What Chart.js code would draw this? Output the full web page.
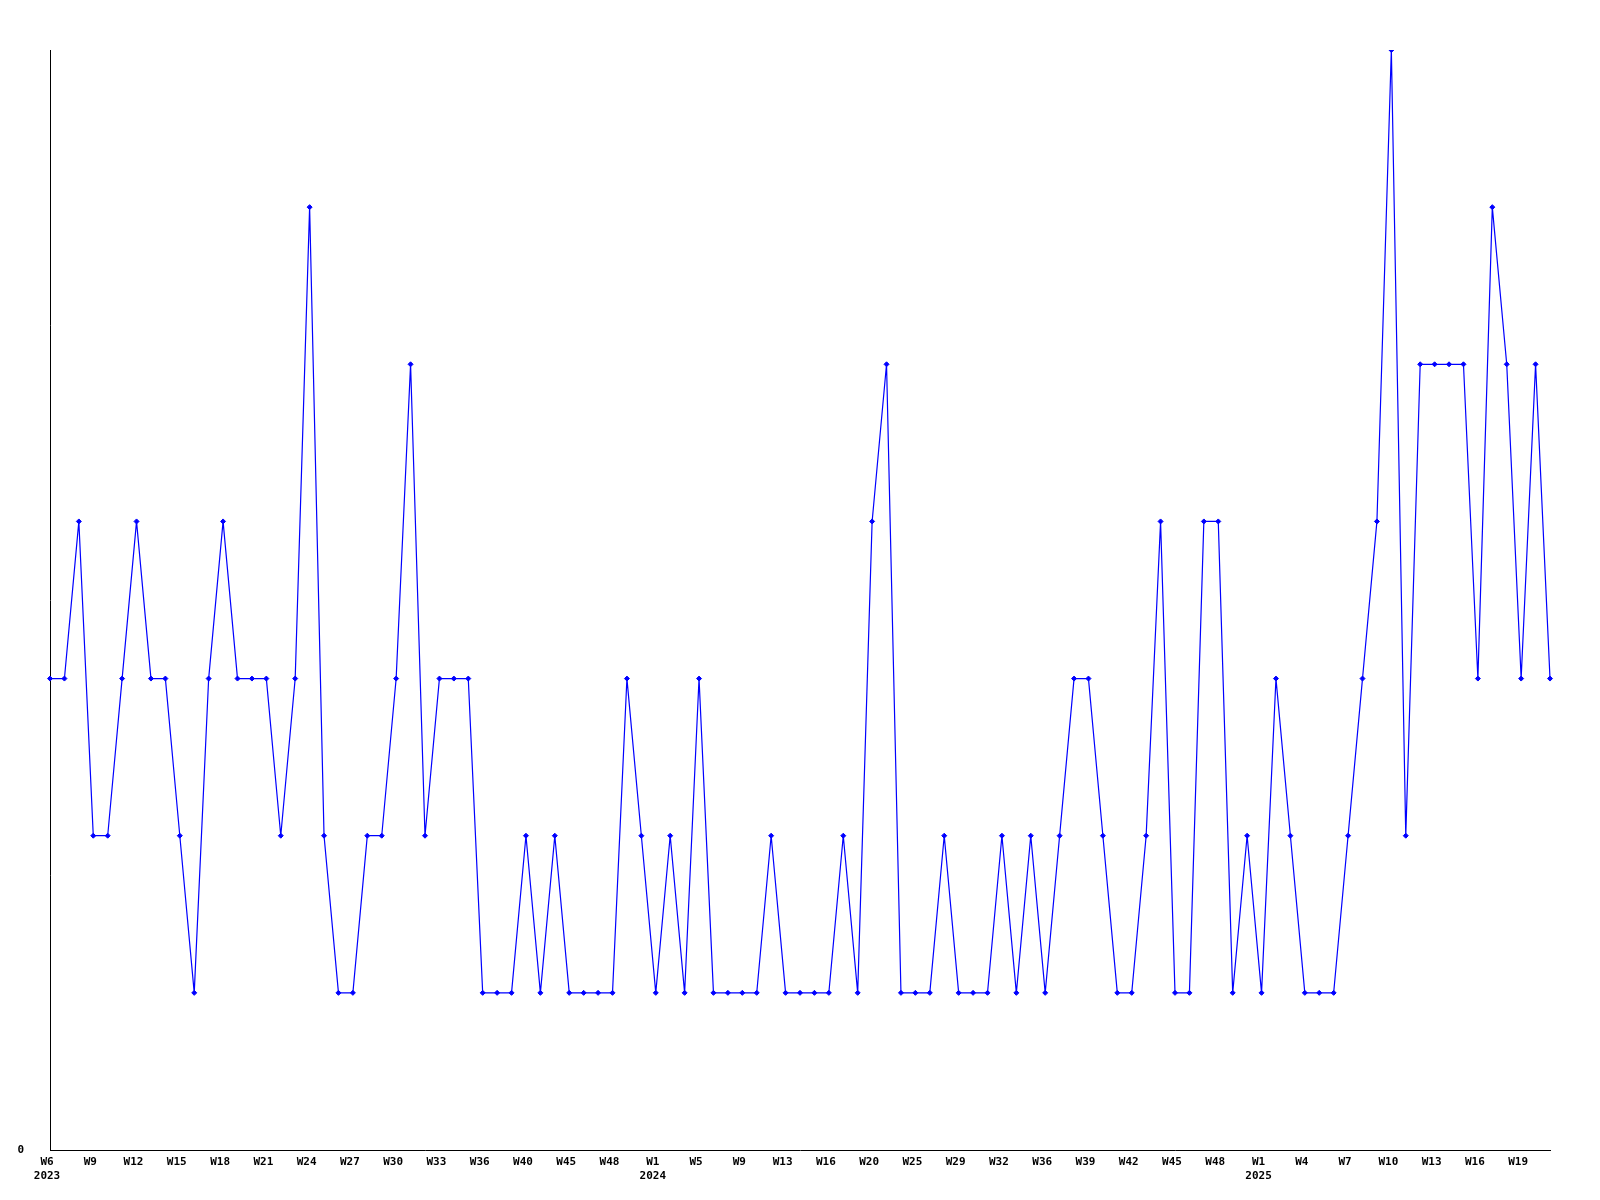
<!DOCTYPE html>
<html>
<head>
<meta charset="utf-8">
<title>Weekly count</title>
<script src="https://cdn.jsdelivr.net/npm/chart.js@4/dist/chart.umd.min.js"></script>
<style>
  body { margin: 0; background: #fff; }
  canvas { display: block; }
</style>
</head>
<body>
<canvas id="chart" width="1600" height="1200"></canvas>
<script>
// week of each point (only every third one is labelled on the axis)
const weeks = [
    'W6','W7','W8','W9','W10','W11','W12','W13','W14','W15','W16','W17','W18','W19','W20','W21',
    'W22','W23','W24','W25','W26','W27','W28','W29','W30','W31','W32','W33','W34','W35','W36',
    'W37','W38','W40','W41','W43','W45','W46','W47','W48','W50','W51',
    'W1','W2','W3','W5','W6','W7','W9','W10','W11','W13','W14','W15','W16','W17','W18','W20',
    'W22','W23','W25','W26','W27','W29','W30','W31','W32','W33','W34','W36','W37','W38','W39',
    'W40','W41','W42','W43','W44','W45','W46','W47','W48','W50','W51',
    'W1','W2','W3','W4','W5','W6','W7','W8','W9','W10','W11','W12','W13','W14','W15','W16',
    'W17','W18','W19','W20','W21'
];
// index of the first week in each year, with the year shown under it
const yearStarts = [0, 42, 84];
const years = ['2023', '2024', '2025'];

const counts = [
    3, 3, 4, 2, 2, 3, 4, 3, 3, 2, 1, 3, 4, 3, 3, 3,
    2, 3, 6, 2, 1, 1, 2, 2, 3, 5, 2, 3, 3, 3, 1,
    1, 1, 2, 1, 2, 1, 1, 1, 1, 3, 2,
    1, 2, 1, 3, 1, 1, 1, 1, 2, 1, 1, 1, 1, 2, 1, 4,
    5, 1, 1, 1, 2, 1, 1, 1, 2, 1, 2, 1, 2, 3, 3,
    2, 1, 1, 2, 4, 1, 1, 4, 4, 1, 2,
    1, 3, 2, 1, 1, 1, 2, 3, 4, 7, 2, 5, 5, 5, 5, 3,
    6, 5, 3, 5, 3
];

const labels = weeks.map((w, i) => {
    const y = yearStarts.indexOf(i);
    return y >= 0 ? [w, years[y]] : w;
});

const tickFont = { family: '"DejaVu Sans Mono", monospace', size: 11, weight: 'bold' };

new Chart(document.getElementById('chart'), {
    type: 'line',
    data: {
        labels: labels,
        datasets: [{
            data: counts,
            borderColor: '#0000ff',
            backgroundColor: '#0000ff',
            borderWidth: 1.2,
            pointStyle: 'rectRot',
            pointRadius: 2.5,
            pointBorderWidth: 1,
            tension: 0
        }]
    },
    options: {
        responsive: false,
        animation: false,
        layout: { padding: { top: 50, right: 50, left: 0, bottom: 0 } },
        plugins: {
            legend: { display: false },
            tooltip: { enabled: false }
        },
        scales: {
            x: {
                offset: false,
                grid: { display: false, drawTicks: false },
                border: { color: '#000', width: 1 },
                ticks: {
                    autoSkip: false,
                    maxRotation: 0,
                    padding: 6,
                    labelOffset: -3,
                    color: '#000',
                    font: tickFont,
                    callback: function(value, index) {
                        return index % 3 === 0 ? this.getLabelForValue(value) : '';
                    }
                },
                afterFit: axis => { axis.height = 50; }
            },
            y: {
                min: 0,
                max: 7,
                grid: { display: false, drawTicks: false },
                border: { color: '#000', width: 1 },
                ticks: {
                    stepSize: 1,
                    padding: 26,
                    color: '#000',
                    font: tickFont,
                    callback: value => value === 0 ? '0' : ''
                },
                afterFit: axis => { axis.width = 50; }
            }
        }
    }
});
</script>
</body>
</html>
